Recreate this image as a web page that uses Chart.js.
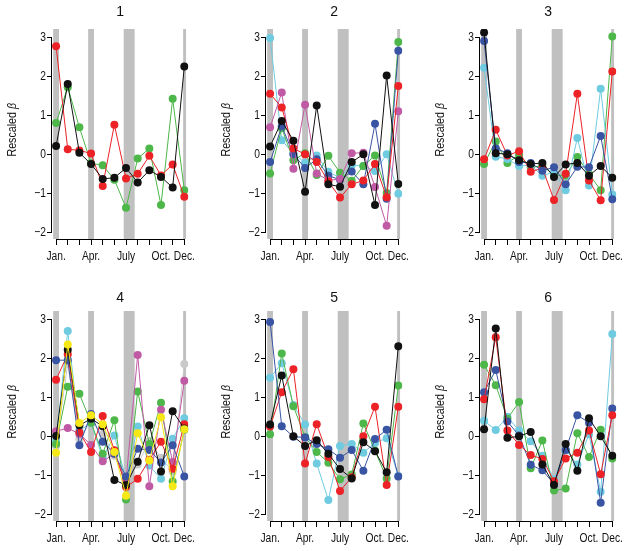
<!DOCTYPE html>
<html>
<head>
<meta charset="utf-8">
<script src="https://cdn.jsdelivr.net/npm/chart.js@4.4.1/dist/chart.umd.min.js"></script>
<style>
  html, body { margin: 0; padding: 0; background: #fff; }
  #wrap { position: relative; width: 629px; height: 551px; }
  #wrap canvas { position: absolute; }
</style>
</head>
<body>
<div id="wrap"></div>
<script>
// Month axis: 0 = Jan ... 11 = Dec
var months = ['Jan.', 'Feb.', 'Mar.', 'Apr.', 'May', 'June', 'July', 'Aug.', 'Sep.', 'Oct.', 'Nov.', 'Dec.'];
var monthTickLabels = ['Jan.', '', '', 'Apr.', '', '', 'July', '', '', 'Oct.', '', 'Dec.'];
var yTicks = [-2, -1, 0, 1, 2, 3];
// shaded holiday periods, in month units
var shadedPeriods = [[-0.25, 0.25], [2.75, 3.25], [5.8, 6.74], [10.9, 11.15]];

var colors = {
    black: '#111111', red: '#ec2227', green: '#4db74a', blue: '#3a54a4',
    cyan: '#6fcbe0', magenta: '#c05aa5', yellow: '#f5e816', gray: '#c9c9c9'
};

// Panel 1
var p1Black = [0.21, 1.80, 0.04, -0.25, -0.63, -0.60, -0.35, -0.72, -0.41, -0.58, -0.85, 2.25];
var p1Red = [2.77, 0.13, 0.10, 0.02, -0.81, 0.76, -0.62, -0.50, -0.04, -0.54, -0.26, -1.09];
var p1Green = [0.80, 1.72, 0.69, -0.23, -0.28, -0.65, -1.37, -0.11, 0.15, -1.30, 1.42, -0.92];

// Panel 2
var p2Black = [0.20, 0.85, 0.35, -0.96, 1.25, -0.77, -0.83, -0.20, 0.00, -1.30, 2.02, -0.76];
var p2Red = [1.55, 1.20, 0.15, 0.00, -0.20, -0.70, -1.11, -0.77, -0.67, -0.25, -1.10, 1.75];
var p2Magenta = [0.69, 1.58, -0.37, 1.27, -0.49, -0.67, -0.63, 0.03, 0.04, -0.84, -1.83, 1.10];
var p2Blue = [-0.20, 0.72, 0.00, -0.35, -0.13, -0.55, -0.65, -0.44, -0.77, 0.78, -1.14, 2.65];
var p2Green = [-0.49, 0.67, -0.15, 0.03, -0.53, -0.04, -0.47, -0.68, -0.30, -0.03, -0.99, 2.88];
var p2Cyan = [2.98, 0.36, 0.02, -0.22, -0.03, -0.45, -0.60, -0.28, -0.30, -0.43, 0.00, -1.01];

// Panel 3
var p3Black = [3.12, 0.03, 0.00, -0.15, -0.25, -0.22, -0.58, -0.26, -0.22, -0.55, -0.30, -0.60];
var p3Blue = [2.90, 0.15, 0.03, -0.20, -0.22, -0.42, -0.33, -0.77, -0.32, -0.33, 0.47, -1.15];
var p3Cyan = [2.22, -0.06, -0.12, -0.30, -0.28, -0.55, -0.45, -0.92, 0.42, -0.80, 1.68, -1.03];
var p3Red = [-0.13, 0.63, -0.03, 0.08, -0.45, -0.35, -1.17, -0.50, 1.55, -0.67, -1.18, 2.12];
var p3Green = [-0.25, 0.33, -0.22, -0.02, -0.33, -0.30, -0.53, -0.55, -0.07, -0.50, -0.92, 3.02];

// Panel 4
var p4Black = [0.01, 2.22, 0.28, 0.45, 0.26, -1.12, -1.25, -0.65, 0.28, -0.90, 0.64, 0.20];
var p4Blue = [1.95, 1.95, -0.23, 0.57, -0.14, -0.45, -1.03, -0.32, -0.35, -0.67, -0.23, -1.03];
var p4Red = [1.45, 2.10, 0.10, -0.40, 0.52, -0.36, -1.30, -1.09, -0.60, -0.14, -0.83, 0.31];
var p4Magenta = [0.13, 0.21, 0.06, -0.22, -0.64, -0.45, -1.13, 2.08, -1.28, 0.68, -0.66, 1.42];
var p4Green = [-0.20, 1.27, 1.09, 0.35, -0.45, 0.41, -1.62, 1.15, -0.20, 0.86, -1.16, 0.17];
var p4Cyan = [-0.12, 2.70, 0.15, 0.34, -0.55, 0.02, -1.10, 0.25, -0.75, -1.09, -0.06, 0.46];
var p4Yellow = [-0.42, 2.35, 0.34, 0.54, 0.31, -0.40, -1.52, 0.08, -0.62, 0.49, -1.28, 0.18];
var p4Gray = [-0.25, 1.85, -0.06, 0.38, 0.05, -0.50, -1.20, -0.72, -0.12, -0.55, -0.90, 1.85];

// Panel 5
var p5Black = [0.30, 1.56, 0.00, -0.25, -0.10, -0.45, -0.84, -1.08, -0.15, -0.38, -0.92, 2.31];
var p5Blue = [2.93, 0.26, -0.01, -0.03, -0.20, -0.33, -0.55, -0.35, -0.88, -0.07, 0.17, -1.03];
var p5Red = [0.25, 1.13, 1.72, -0.70, 0.31, -0.53, -1.40, -1.05, 0.00, 0.76, -1.25, 0.76];
var p5Green = [0.05, 2.12, 0.77, -0.02, -0.40, -0.68, -1.10, -0.98, 0.33, -0.37, -1.08, 1.30];
var p5Cyan = [1.50, 1.87, 0.80, 0.30, -0.70, -1.63, -0.25, -0.20, -0.42, -0.17, -0.05, -1.02];

// Panel 6
var p6Black = [0.18, 2.76, -0.04, 0.00, 0.11, -0.72, -1.25, -0.20, -0.88, 0.46, 0.00, -0.50];
var p6Red = [0.95, 2.54, 0.15, -0.22, -0.48, -0.58, -1.15, -0.57, -0.42, 0.15, -0.97, 0.54];
var p6Blue = [1.13, 1.70, 0.38, 0.02, -0.73, -0.87, -1.22, -0.35, 0.54, 0.35, -1.70, 0.71];
var p6Green = [1.83, 1.31, 0.45, 0.88, -0.82, -0.11, -1.39, -1.34, 0.08, -0.53, 0.17, -0.57];
var p6Cyan = [0.40, 0.16, 0.50, 0.15, -0.13, -0.50, -1.10, -0.35, -0.72, 0.05, -1.42, 2.62];

// each panel: title, grid position and its series (first listed is drawn on top)
var panels = [
    { title: '1', col: 0, row: 0, series: [['black', p1Black], ['red', p1Red], ['green', p1Green]] },
    { title: '2', col: 1, row: 0, series: [['black', p2Black], ['red', p2Red], ['magenta', p2Magenta], ['blue', p2Blue], ['green', p2Green], ['cyan', p2Cyan]] },
    { title: '3', col: 2, row: 0, series: [['black', p3Black], ['blue', p3Blue], ['red', p3Red], ['cyan', p3Cyan], ['green', p3Green]] },
    { title: '4', col: 0, row: 1, series: [['yellow', p4Yellow], ['black', p4Black], ['blue', p4Blue], ['red', p4Red], ['magenta', p4Magenta], ['green', p4Green], ['cyan', p4Cyan], ['gray', p4Gray]] },
    { title: '5', col: 1, row: 1, series: [['black', p5Black], ['blue', p5Blue], ['red', p5Red], ['green', p5Green], ['cyan', p5Cyan]] },
    { title: '6', col: 2, row: 1, series: [['black', p6Black], ['red', p6Red], ['blue', p6Blue], ['green', p6Green], ['cyan', p6Cyan]] }
];

var FONT = '"Liberation Sans", Arial, Helvetica, sans-serif';
var NARROW = 0.82; // horizontal squeeze to mimic Helvetica Narrow

// write text squeezed horizontally at (px, py)
function narrowText(ctx, text, px, py, align) {
    ctx.save();
    ctx.translate(px, py);
    ctx.scale(NARROW, 1);
    ctx.textAlign = align;
    ctx.fillText(text, 0, 0);
    ctx.restore();
}

// Draws shaded periods, R-style axes, tick labels, panel title and y-axis title
var panelDecor = {
    id: 'panelDecor',
    beforeDatasetsDraw: function (chart) {
        var ctx = chart.ctx, area = chart.chartArea, x = chart.scales.x;
        ctx.save();
        ctx.fillStyle = '#c0c0c0';
        shadedPeriods.forEach(function (p) {
            var x0 = x.getPixelForValue(p[0]);
            var x1 = x.getPixelForValue(p[1]);
            ctx.fillRect(x0, area.top, x1 - x0, area.bottom - area.top);
        });
        ctx.restore();
    },
    afterDraw: function (chart, args, opts) {
        var ctx = chart.ctx, area = chart.chartArea;
        var x = chart.scales.x, y = chart.scales.y;
        ctx.save();
        ctx.strokeStyle = '#000';
        ctx.lineWidth = 1;
        ctx.beginPath();
        // y axis line from -2 to 3
        ctx.moveTo(area.left - 0.5, y.getPixelForValue(yTicks[0]));
        ctx.lineTo(area.left - 0.5, y.getPixelForValue(yTicks[yTicks.length - 1]));
        // x axis line from Jan to Dec
        ctx.moveTo(x.getPixelForValue(0), area.bottom + 0.5);
        ctx.lineTo(x.getPixelForValue(months.length - 1), area.bottom + 0.5);
        ctx.stroke();

        ctx.fillStyle = '#111';
        ctx.textBaseline = 'middle';

        // tick labels
        ctx.font = '12.5px ' + FONT;
        monthTickLabels.forEach(function (lab, i) {
            if (lab) narrowText(ctx, lab, x.getPixelForValue(i), area.bottom + 18, 'center');
        });
        yTicks.forEach(function (v) {
            var lab = v < 0 ? '\u2212' + (-v) : String(v);
            narrowText(ctx, lab, area.left - 6, y.getPixelForValue(v), 'right');
        });

        // panel title
        ctx.font = '14px ' + FONT;
        ctx.textAlign = 'center';
        ctx.fillText(opts.title, (area.left + area.right) / 2, opts.titleY);

        // y axis title: "Rescaled" + italic beta
        var cy = (y.getPixelForValue(yTicks[0]) + y.getPixelForValue(yTicks[yTicks.length - 1])) / 2 - 5;
        ctx.translate(12, cy);
        ctx.rotate(-Math.PI / 2);
        ctx.scale(NARROW, 1);
        ctx.textAlign = 'left';
        var partA = 'Rescaled ', partB = 'β';
        ctx.font = '13px ' + FONT;
        var wA = ctx.measureText(partA).width;
        ctx.font = 'italic 13px ' + FONT;
        var wB = ctx.measureText(partB).width;
        var start = -(wA + wB) / 2;
        ctx.font = '13px ' + FONT;
        ctx.fillText(partA, start, 0);
        ctx.font = 'italic 13px ' + FONT;
        ctx.fillText(partB, start + wA, 0);
        ctx.restore();
    }
};

var wrap = document.getElementById('wrap');

panels.forEach(function (panel) {
    var W = 201;
    var H = panel.row === 0 ? 275 : 269;
    var canvas = document.createElement('canvas');
    canvas.width = W;
    canvas.height = H;
    canvas.style.left = (panel.col * 214) + 'px';
    canvas.style.top = (panel.row === 0 ? 0 : 282) + 'px';
    canvas.style.width = W + 'px';
    canvas.style.height = H + 'px';
    wrap.appendChild(canvas);

    var datasets = panel.series.map(function (s) {
        var c = colors[s[0]];
        return {
            label: s[0],
            data: s[1].map(function (v, i) { return { x: i, y: v }; }),
            borderColor: c,
            backgroundColor: c,
            borderWidth: 1,
            pointRadius: 4,
            pointBorderWidth: 0,
            pointBackgroundColor: c,
            tension: 0
        };
    });

    new Chart(canvas, {
        type: 'line',
        data: { datasets: datasets },
        plugins: [panelDecor],
        options: {
            responsive: false,
            animation: false,
            devicePixelRatio: 1,
            layout: { padding: { top: 29, right: 12.6, left: 0, bottom: 0 } },
            scales: {
                x: {
                    type: 'linear',
                    min: -0.35,
                    max: 11.35,
                    afterBuildTicks: function (scale) {
                        scale.ticks = months.map(function (m, i) { return { value: i }; });
                    },
                    afterFit: function (scale) { scale.height = H - 239; },
                    ticks: { display: false },
                    grid: { drawOnChartArea: false, drawTicks: true, tickLength: 6, color: '#000', lineWidth: 1 },
                    border: { display: false }
                },
                y: {
                    min: -2.17,
                    max: 3.21,
                    afterBuildTicks: function (scale) {
                        scale.ticks = yTicks.map(function (v) { return { value: v }; });
                    },
                    afterFit: function (scale) { scale.width = 52; },
                    ticks: { display: false },
                    grid: { drawOnChartArea: false, drawTicks: true, tickLength: 5, color: '#000', lineWidth: 1 },
                    border: { display: false }
                }
            },
            plugins: {
                legend: { display: false },
                tooltip: { enabled: false },
                panelDecor: { title: panel.title, titleY: panel.row === 0 ? 12 : 16 }
            }
        }
    });
});
</script>
</body>
</html>
